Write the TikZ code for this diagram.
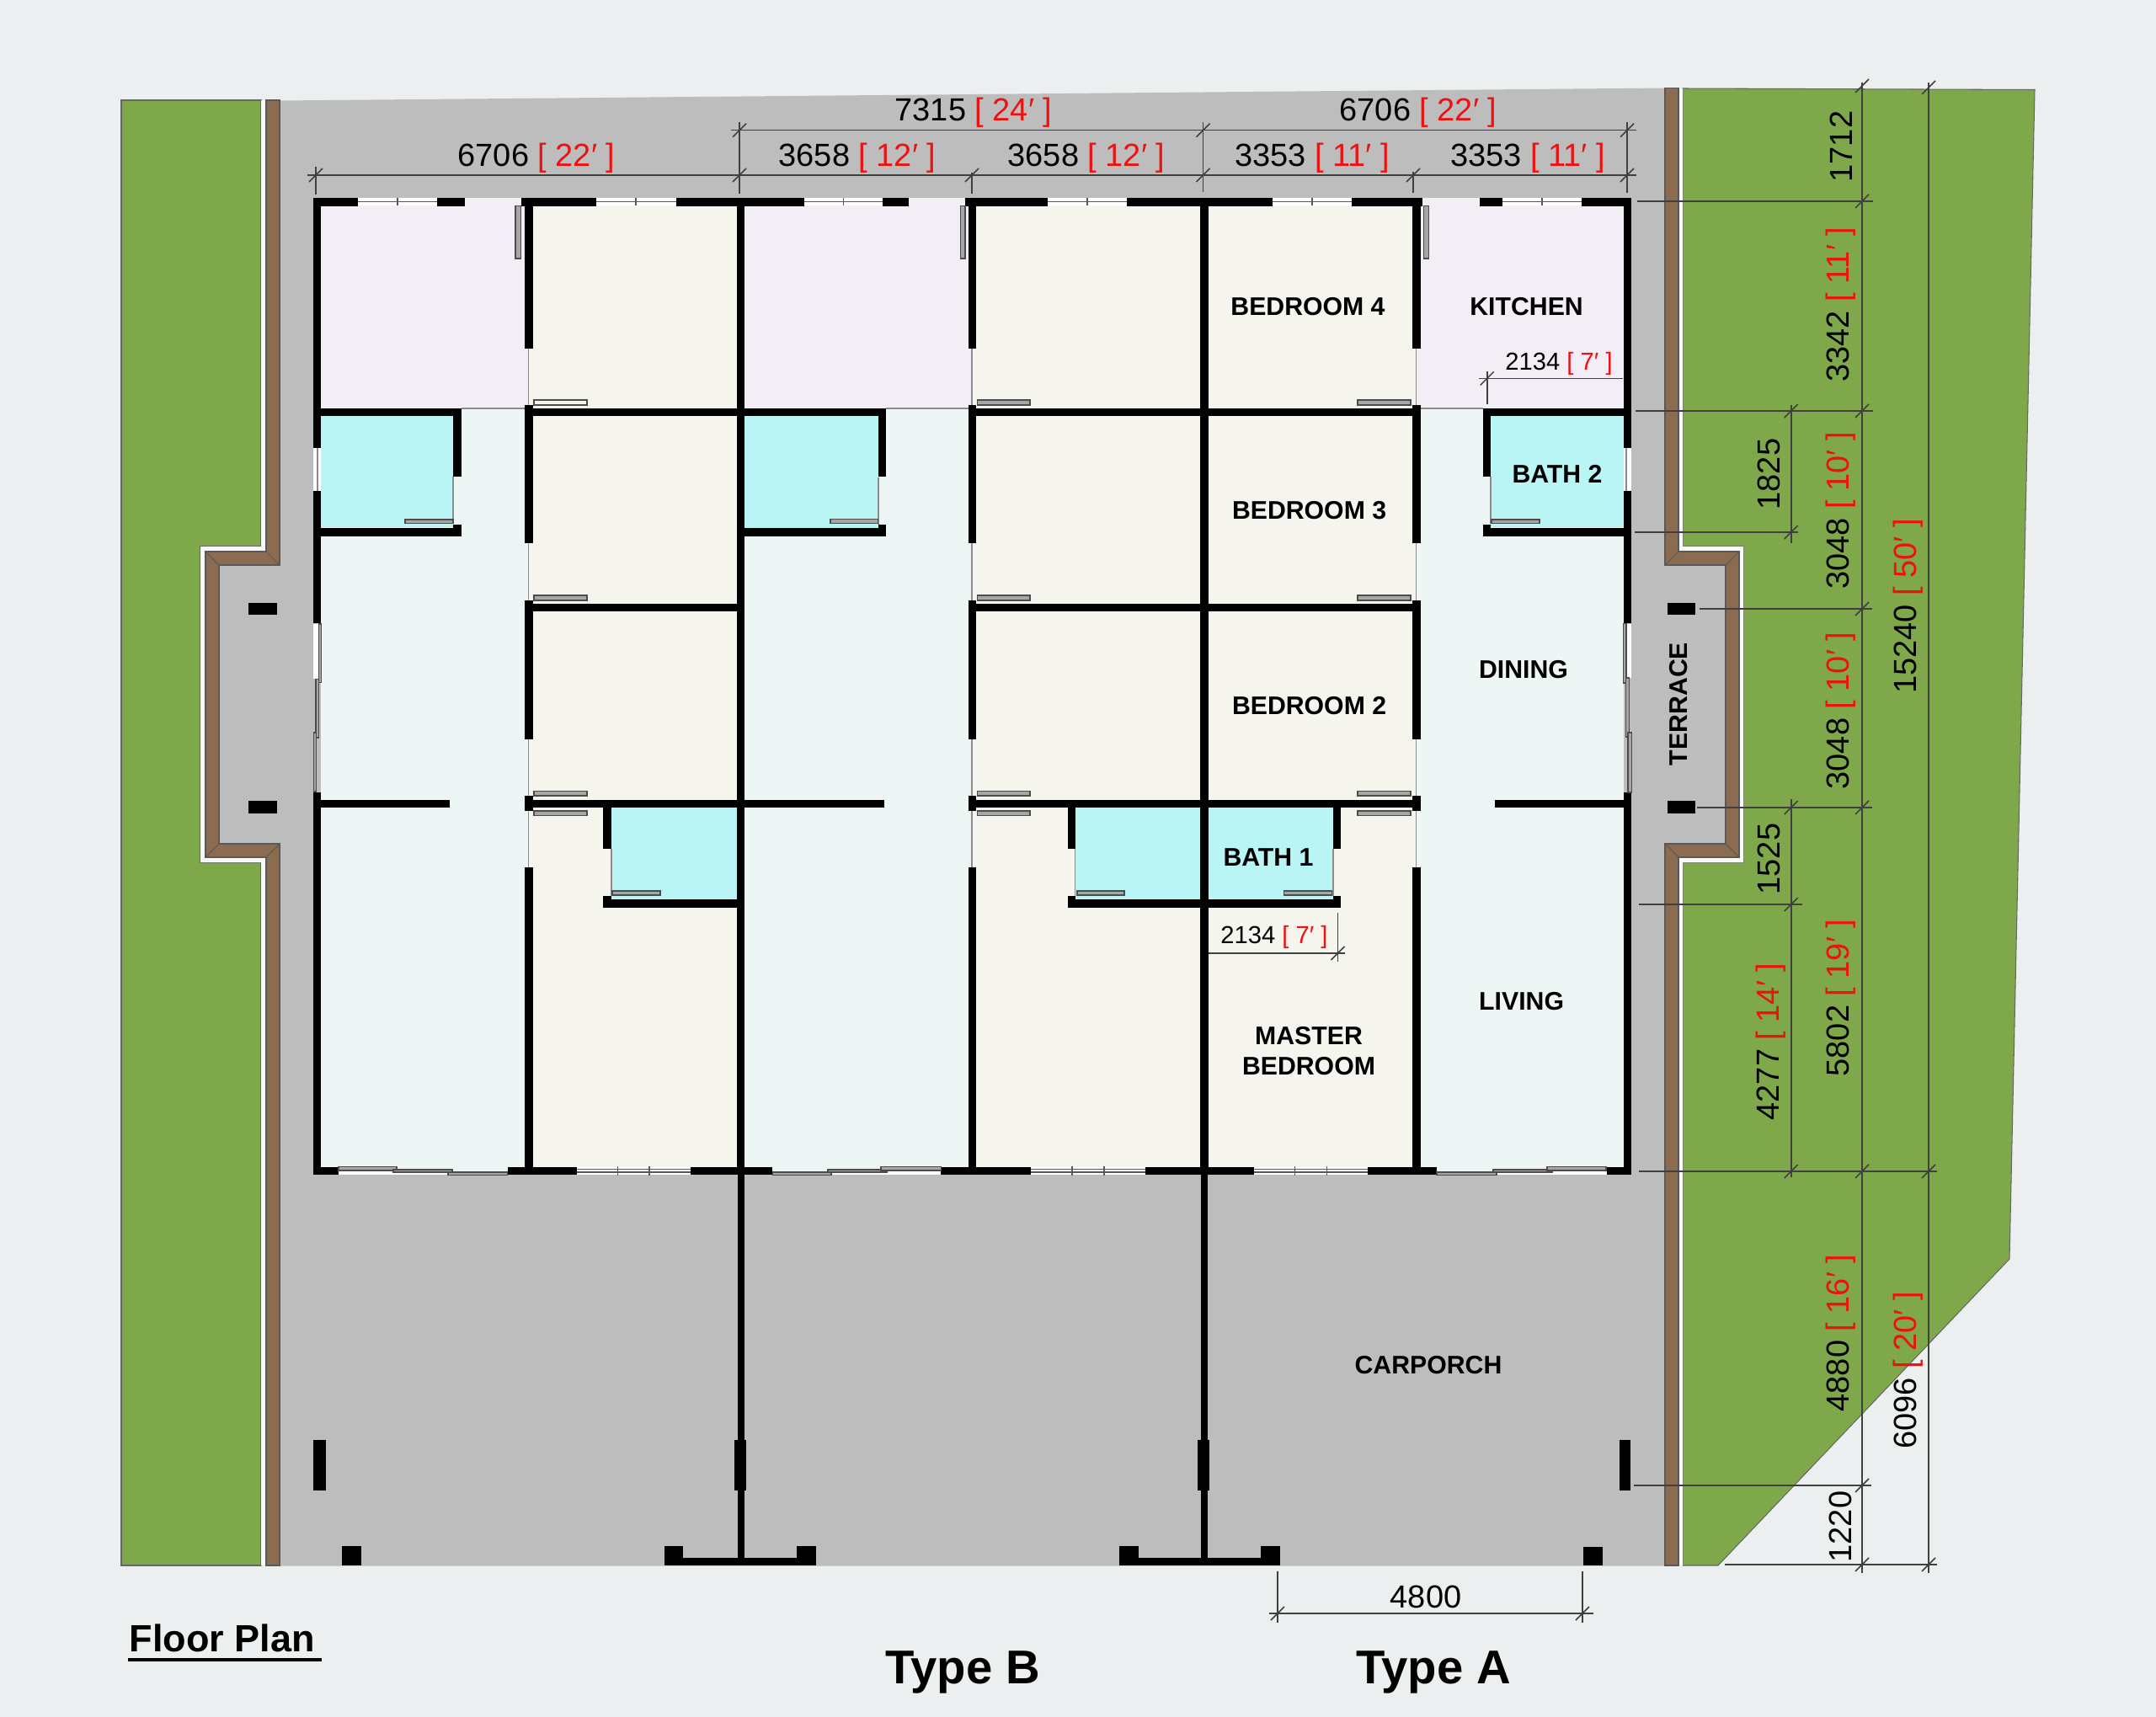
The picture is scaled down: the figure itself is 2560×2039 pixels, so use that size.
\documentclass[tikz,border=0pt]{standalone}
\usepackage{fontspec}
\setmainfont{Liberation Sans}
\definecolor{pagebg}{HTML}{EBEFF0}
\definecolor{lawn}{HTML}{7FA84A}
\definecolor{brownwall}{HTML}{8B6C50}
\definecolor{paving}{HTML}{BDBDBD}
\definecolor{roompink}{HTML}{F3EDF6}
\definecolor{roombeige}{HTML}{F5F5EE}
\definecolor{roomliving}{HTML}{EDF6F5}
\definecolor{roombath}{HTML}{B9F5F4}
\definecolor{dimred}{HTML}{EE1111}
\tikzset{
	wall/.style={fill=black},
	panel/.style={fill=black!35,draw=black!70,line width=0.4pt},
	stripe/.style={fill=white!60!pagebg},
	kerb/.style={fill=brownwall,draw=black!65,line width=0.3pt},
	thinline/.style={draw=black!45,line width=0.4pt},
	glassline/.style={draw=black!65,line width=0.5pt},
	dimline/.style={draw=black!75,line width=0.45pt},
	dimtext/.style={font=\fontsize{10.8}{13}\selectfont,inner sep=0pt},
	smalltext/.style={font=\fontsize{8.3}{10}\selectfont,inner sep=0pt},
	room/.style={font=\fontsize{8.6}{10.2}\selectfont\bfseries,inner sep=0pt,align=center},
	typetext/.style={font=\fontsize{16}{18}\selectfont\bfseries,inner sep=0pt}
}
\def\dimtick(#1,#2){\draw[dimline] (#1-8,#2+8) -- (#1+8,#2-8);}
\def\dimlabel#1#2{#1 \textcolor{dimred}{[ #2′ ]}}

\begin{document}
\begin{tikzpicture}[x=0.01cm,y=-0.01cm]
	%%%%% SITE %%%%%
	\fill[pagebg] (0,0) rectangle (2560,2039);
	\useasboundingbox (0,0) rectangle (2560,2039);
	
	\fill[lawn,draw=black!60,line width=0.3pt] (144,119) -- (310,119) -- (310,649) -- (238,649) -- (238,1024) -- (310,1024) -- (310,1859) -- (144,1859) -- cycle;
	\fill[lawn,draw=black!60,line width=0.3pt] (1998,105) -- (2416,106.5) -- (2386,1495) -- (2040,1859) -- (1998,1859) -- (1998,1024) -- (2070,1024) -- (2070,649) -- (1998,649) -- cycle;
	
	\fill[stripe] (310,119) -- (316,119) -- (316,655) -- (244,655) -- (244,1018) -- (316,1018) -- (316,1859) -- (310,1859) -- (310,1024) -- (238,1024) -- (238,649) -- (310,649) -- cycle;
	\fill[stripe] (1993,105) -- (1998,105) -- (1998,649) -- (2070,649) -- (2070,1024) -- (1998,1024) -- (1998,1859) -- (1993,1859) -- (1993,1018) -- (2065,1018) -- (2065,655) -- (1993,655) -- cycle;
	
	\fill[paving] (332,119.5) -- (1978,104.5) -- (1978,671) -- (2049,671) -- (2049,1002) -- (1978,1002) -- (1978,1859.5) -- (332,1859.5) -- (332,1002) -- (260,1002) -- (260,671) -- (332,671) -- cycle;
	
	\draw[kerb] (316,119) -- (332,119) -- (332,671) -- (260,671) -- (260,1002) -- (332,1002) -- (332,1859) -- (316,1859) -- (316,1018) -- (244,1018) -- (244,655) -- (316,655) -- cycle;
	\draw[kerb] (1977,104.5) -- (1993,104.5) -- (1993,655) -- (2065,655) -- (2065,1018) -- (1993,1018) -- (1993,1859) -- (1977,1859) -- (1977,1002) -- (2049,1002) -- (2049,671) -- (1977,671) -- cycle;
	\foreach \xa/\ya/\xb/\yb in {316/655/332/671,244/655/260/671,244/1018/260/1002,316/1018/332/1002,1993/655/1977/671,2065/655/2049/671,2065/1018/2049/1002,1993/1018/1977/1002}
		\draw[draw=black!65,line width=0.3pt] (\xa,\ya) -- (\xb,\yb);
	
	%%%%% FLOORS %%%%%
	\foreach \xa/\xb in {381/627.6,884/1154,1682/1928}{
		\fill[roompink] (\xa,235) rectangle (\xb,485);
		\fill[roomliving] (\xa,485) rectangle (\xb,1392);
	}
	\foreach \xa/\xb in {627.6/874.5,1154/1425,1435/1682}
		\fill[roombeige] (\xa,244) rectangle (\xb,1390);
	\foreach \xa/\ya/\xb/\yb in {381/494/538/626,884/494/1043/627,1770/494/1928/626,726/959/875/1068,1276.6/959/1425/1068,1435/959/1583/1068}
		\fill[roombath] (\xa,\ya) rectangle (\xb,\yb);
	
	%%%%% OPENINGS %%%%%
	\foreach \xa/\xb in {425/519,708/802.6,955/1048,1244/1338,1511/1605,1784/1878}{
		\fill[white] (\xa,235) rectangle (\xb,244);
		\draw[glassline] (\xa,239.5) -- (\xb,239.5);
		\draw[glassline] ({(\xa+\xb)/2},235) -- ({(\xa+\xb)/2},244);
	}
	\foreach \xa/\xb in {684.7/820,1224/1360,1489/1624}{
		\fill[white] (\xa,1386) rectangle (\xb,1395);
		\draw[glassline] (\xa,1388.5) -- (\xb,1388.5);
		\draw[glassline] (\xa,1392) -- (\xb,1392);
		\draw[glassline] ({\xa+(\xb-\xa)*0.36},1385) -- ({\xa+(\xb-\xa)*0.36},1396);
		\draw[glassline] ({\xa+(\xb-\xa)*0.64},1385) -- ({\xa+(\xb-\xa)*0.64},1396);
	}
	\fill[white] (372,532) rectangle (381,583);
	\draw[thinline] (377,532) -- (377,583);
	\fill[white] (1928,532) rectangle (1936.5,583);
	\draw[thinline] (1931,532) -- (1931,583);
	\fill[white] (372,741) rectangle (378.5,806);
	\fill[white] (1931,741) rectangle (1936.5,805);
	\fill[white] (402,1390) rectangle (532,1395);
	\fill[white] (987,1390) rectangle (1117,1395);
	\fill[white] (1777,1390) rectangle (1908,1395);
	
	\foreach \xd in {627.6,1154,1681.7}
		\foreach \ya/\yb in {413/481,645/713,878/945,963/1030}
			\draw[thinline] (\xd,\ya) -- (\xd,\yb);
	\foreach \xa/\xb in {547.6/622.5,1052/1149.5,1686/1761}
		\draw[thinline] (\xa,485) -- (\xb,485);
	\foreach \xd/\ya/\yb in {538/566/622,1043/566.7/622.7,1770/566/622,726/1008/1064,1276.6/1008/1064,1582.8/1008/1064}
		\draw[thinline] (\xd,\ya) -- (\xd,\yb);
	
	%%%%% WALLS %%%%%
	\foreach \ya/\yb in {235/532,583/740,941/1395}{
		\fill[wall] (372,\ya) rectangle (381,\yb);
		\fill[wall] (1928,\ya) rectangle (1936.5,\yb);
	}
	\foreach \xa/\xb in {372/425,519/551.6,618.5/708,802.6/955,1048/1078.5,1146/1244,1338/1511,1605/1689.4,1757/1784,1878/1936.5}
		\fill[wall] (\xa,235) rectangle (\xb,244.5);
	\foreach \xa/\xb in {372/402,602.6/684.7,820/917,1117/1224,1360/1489,1624/1706,1908/1936.5}
		\fill[wall] (\xa,1385.7) rectangle (\xb,1395);
	\fill[wall] (874.5,235) rectangle (884,1395);
	\fill[wall] (1425,235) rectangle (1435,1395);
	\fill[wall] (875.5,1395) rectangle (883.5,1859);
	\fill[wall] (1425.5,1395) rectangle (1434,1859);
	\foreach \xa/\xb in {622.5/632.5,1149.5/1159.3,1677/1686.5}
		\foreach \ya/\yb in {235/413.5,481/645,713/878,945/963,1030/1395}
			\fill[wall] (\xa,\ya) rectangle (\xb,\yb);
	\foreach \xa/\xb in {372/547.6,622.5/1052,1149.5/1686.5,1761/1936.5}
		\fill[wall] (\xa,485) rectangle (\xb,494);
	\foreach \xa/\xb in {622.5/875,1149.5/1686.5}
		\fill[wall] (\xa,716.7) rectangle (\xb,726);
	\foreach \xa/\xb in {372/534,622.5/1050,1149.5/1686.5,1775/1936.5}
		\fill[wall] (\xa,949.5) rectangle (\xb,959);
	% bath walls
	\foreach \xa/\xb in {538/547.6,1043/1052.3,1761/1770}{
		\fill[wall] (\xa,494) rectangle (\xb,566);
		\fill[wall] (\xa,622.5) rectangle (\xb,636);
	}
	\fill[wall] (372,626.5) rectangle (547.6,636.5);
	\fill[wall] (874.5,626.7) rectangle (1052.3,636.7);
	\fill[wall] (1761,626.5) rectangle (1936.5,636.5);
	\foreach \xa/\xb in {716/726,1267.7/1276.6,1582.8/1591.7}{
		\fill[wall] (\xa,959) rectangle (\xb,1008);
		\fill[wall] (\xa,1064) rectangle (\xb,1068);
	}
	\fill[wall] (716,1068) rectangle (875,1077.5);
	\fill[wall] (1267.7,1068) rectangle (1591.7,1077.5);
	
	% columns and carporch piers
	\foreach \xa/\ya/\xb/\yb in {295/715.5/329/730,295/951/329/965.7,1980/715.5/2013/730,1980/951/2013/965.5,372/1710/386.6/1770,872/1710/886/1770,1422/1710/1436/1770,1923/1710/1936/1770,406/1836/428.7/1859,1880/1836.5/1903/1859,789/1849.6/969/1859,789/1836/811/1859,946/1836/969/1859,1329/1849.6/1520/1859,1329/1836/1352/1859,1497/1836/1520/1859,152/1969/381.6/1973}
		\fill[wall] (\xa,\ya) rectangle (\xb,\yb);
	
	%%%%% PANELS %%%%%
	\draw[panel,fill=roombeige] (634,475) rectangle (697,481);
	\foreach \xa/\xb in {1160.5/1223,1612/1675}
		\draw[panel] (\xa,475) rectangle (\xb,481);
	\foreach \xa/\xb in {634/697,1160.5/1223,1612/1675}{
		\draw[panel] (\xa,707) rectangle (\xb,713);
		\draw[panel] (\xa,939.6) rectangle (\xb,945);
		\draw[panel] (\xa,963) rectangle (\xb,968.7);
	}
	\foreach \xa/\ya/\xb/\yb in {612/244.5/618.5/307,1140.5/244.5/1146/307,1690.5/244.5/1696.5/307,481/617/538/621.6,986/616.7/1042.7/621.7,1771/617/1828/621.6,727/1058/784/1063,1279/1058/1335/1063,1524.7/1058/1581.5/1063,378.5/741/381.6/810.6,375/806.5/378.6/876,372.5/870/375.5/940,1927.7/740.5/1931/811,1930.7/805/1934.7/875,1933/870/1937.3/941,402/1385.6/471/1390,467/1389/537/1392,532/1392/602.6/1395.5,917.6/1392/987/1395.5,983/1389/1053/1392,1046/1385.6/1117.5/1390,1706/1392/1777/1395.5,1773/1389/1843/1392,1837/1385.6/1907/1390}
		\draw[panel] (\xa,\ya) rectangle (\xb,\yb);
	
	%%%%% DIMENSIONS %%%%%
	\draw[dimline] (868,154.7) -- (1943,154.7);
	\draw[dimline] (365,208) -- (1943,208);
	\draw[dimline] (375,198) -- (375,231);
	\draw[dimline] (878,145) -- (878,230);
	\draw[dimline] (1154,205) -- (1154,230);
	\draw[dimline] (1428.5,145) -- (1428.5,228);
	\draw[dimline] (1678,204) -- (1678,229);
	\draw[dimline] (1932,145) -- (1932,229);
	\foreach \xd in {375,878,1154,1428.5,1678,1932}{
		\dimtick(\xd,208)
	}
	\foreach \xd in {878,1428.5,1932}{
		\dimtick(\xd,154.7)
	}
	
	\draw[dimline] (2211,98) -- (2211,1868);
	\draw[dimline] (2290,98) -- (2290,1868);
	\draw[dimline] (2126.7,481) -- (2126.7,644.5);
	\draw[dimline] (2126.7,948.7) -- (2126.7,1397.6);
	\foreach \xa/\yd/\xb in {1944/239/2224,1942/488/2224,1941/632/2135,2018/723/2223,2015/959/2223,1946/1074/2140,1946/1391/2300,1940/1764/2222,2048/1858/2300}
		\draw[dimline] (\xa,\yd) -- (\xb,\yd);
	\foreach \yd in {102,239,488,723,959,1391,1764,1858}{
		\dimtick(2211,\yd)
	}
	\foreach \yd in {104,1391,1858}{
		\dimtick(2290,\yd)
	}
	\foreach \yd in {488,632,959,1074,1391}{
		\dimtick(2126.7,\yd)
	}
	
	\draw[dimline] (1756,449.4) -- (1927,449.4);
	\draw[dimline] (1765.7,441) -- (1765.7,480);
	\dimtick(1765.7,449.4)
	\draw[dimline] (1435,1132) -- (1597,1132);
	\draw[dimline] (1588.5,1084) -- (1588.5,1142);
	\dimtick(1588.5,1132)
	
	\draw[dimline] (1507,1916) -- (1892,1916);
	\draw[dimline] (1517,1866) -- (1517,1927);
	\draw[dimline] (1879,1866) -- (1879,1927);
	\dimtick(1517,1916)
	\dimtick(1879,1916)
	
	%%%%% LABELS %%%%%
	\node[dimtext] (dimtopb) at (1156,134) {\dimlabel{7315}{24}};
	\node[dimtext] (dimtopa) at (1684,134) {\dimlabel{6706}{22}};
	\node[dimtext] (dimwest) at (637,187.5) {\dimlabel{6706}{22}};
	\node[dimtext] (dimbone) at (1018,187.5) {\dimlabel{3658}{12}};
	\node[dimtext] (dimbtwo) at (1290,187.5) {\dimlabel{3658}{12}};
	\node[dimtext] (dimaone) at (1558,187.5) {\dimlabel{3353}{11}};
	\node[dimtext] (dimatwo) at (1814,187.5) {\dimlabel{3353}{11}};
	
	\node[dimtext,rotate=90] (dimreara) at (2186,174) {1712};
	\node[dimtext,rotate=90] (dimrearb) at (2186,361.6) {\dimlabel{3342}{11}};
	\node[dimtext,rotate=90] (dimbath) at (2100,563) {1825};
	\node[dimtext,rotate=90] (dimmida) at (2186,606.5) {\dimlabel{3048}{10}};
	\node[dimtext,rotate=90] (dimmidb) at (2186,844) {\dimlabel{3048}{10}};
	\node[dimtext,rotate=90] (dimall) at (2266,720) {\dimlabel{15240}{50}};
	\node[dimtext,rotate=90] (dimpier) at (2100,1020) {1525};
	\node[dimtext,rotate=90] (dimfronta) at (2103,1237) {\dimlabel{4277}{14}};
	\node[dimtext,rotate=90] (dimfrontb) at (2186,1185) {\dimlabel{5802}{19}};
	\node[dimtext,rotate=90] (dimporcha) at (2186,1583) {\dimlabel{4880}{16}};
	\node[dimtext,rotate=90] (dimporchb) at (2266,1627.5) {\dimlabel{6096}{20}};
	\node[dimtext,rotate=90] (dimgate) at (2185,1813) {1220};
	\node[dimtext] (dimwidth) at (1693,1896) {4800};
	
	\node[smalltext] (dimkitchen) at (1851,432) {\dimlabel{2134}{7}};
	\node[smalltext] (dimmaster) at (1513,1113) {\dimlabel{2134}{7}};
	
	\node[room] (bedfour) at (1553,364) {BEDROOM 4};
	\node[room] (kitchen) at (1812.6,364) {KITCHEN};
	\node[room] (bathtwo) at (1849,563) {BATH 2};
	\node[room] (bedthree) at (1554.6,606.5) {BEDROOM 3};
	\node[room] (dining) at (1809,795) {DINING};
	\node[room] (bedtwo) at (1554.6,838.5) {BEDROOM 2};
	\node[room] (bathone) at (1506,1018.5) {BATH 1};
	\node[room] (living) at (1806.6,1188.6) {LIVING};
	\node[room] (master) at (1554,1248.5) {MASTER\\BEDROOM};
	\node[room] (carporch) at (1696,1621.5) {CARPORCH};
	\node[room,rotate=90] (terrace) at (1992.7,836) {TERRACE};
	
	\node[inner sep=0pt,font=\fontsize{12.8}{15}\selectfont\bfseries] (floorplan) at (264,1945) {Floor Plan};
	\node[typetext] (typeb) at (1143,1986) {Type B};
	\node[typetext] (typea) at (1702,1986) {Type A};
\end{tikzpicture}
\end{document}
